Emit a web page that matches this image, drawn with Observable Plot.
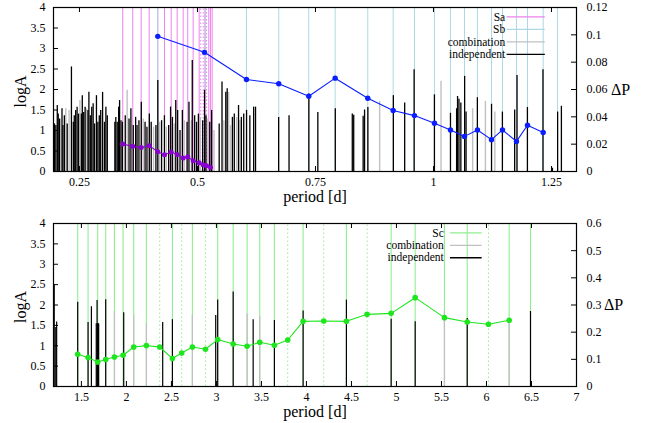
<!DOCTYPE html>
<html><head><meta charset="utf-8">
<script src="https://cdn.jsdelivr.net/npm/d3@7"></script>
<script src="https://cdn.jsdelivr.net/npm/@observablehq/plot@0.6"></script>
<style>
body{margin:0;background:#fff}
#chart{width:651px;height:423px;line-height:0}
#chart svg, #chart svg text{font-family:'Liberation Serif','DejaVu Serif',serif !important}
</style>
</head><body><div id="chart"></div>
<script>
// ---------- TOP PANEL DATA ----------
// bars: [period, logA, type]  i = independent, c = combination
const barsTop = [
[0.197,1.16,"i"],[0.200,1.12,"i"],[0.203,1.61,"i"],[0.205,1.40,"i"],[0.208,1.28,"i"],[0.213,1.53,"i"],[0.215,1.12,"i"],[0.218,1.36,"i"],[0.221,1.53,"c"],[0.224,1.16,"i"],[0.228,1.49,"c"],[0.233,2.55,"i"],[0.237,1.20,"i"],[0.239,1.36,"i"],[0.242,1.49,"i"],[0.245,1.57,"i"],[0.248,1.40,"i"],[0.251,1.73,"c"],[0.254,1.40,"i"],[0.256,1.85,"i"],[0.259,1.44,"i"],[0.262,1.57,"i"],[0.265,1.53,"c"],[0.268,1.49,"i"],[0.270,1.93,"i"],[0.273,1.36,"i"],[0.276,1.57,"i"],[0.279,1.65,"i"],[0.282,1.16,"i"],[0.286,1.85,"i"],[0.289,1.20,"i"],[0.292,1.36,"i"],[0.295,1.49,"i"],[0.299,1.93,"i"],[0.303,1.20,"i"],[0.306,1.57,"i"],[0.309,1.36,"i"],
[0.325,1.20,"i"],[0.327,1.32,"i"],[0.330,1.20,"i"],[0.333,1.57,"i"],[0.335,1.73,"i"],[0.338,1.24,"i"],[0.341,1.20,"i"],[0.347,1.36,"i"],[0.351,1.98,"c"],[0.355,1.28,"i"],[0.359,1.53,"i"],[0.364,1.12,"i"],[0.369,1.32,"i"],[0.372,1.12,"i"],[0.376,1.24,"i"],[0.381,1.69,"i"],[0.385,1.28,"c"],[0.389,1.20,"i"],[0.393,1.08,"i"],[0.398,1.40,"i"],[0.402,1.20,"i"],[0.407,1.08,"c"],[0.412,1.12,"i"],[0.416,2.22,"i"],[0.420,1.20,"c"],[0.424,1.24,"i"],[0.430,1.36,"i"],[0.434,1.08,"c"],[0.439,1.12,"i"],[0.443,1.57,"i"],[0.447,1.32,"i"],[0.451,1.16,"c"],[0.454,1.73,"i"],[0.458,1.49,"i"],[0.463,1.00,"i"],[0.468,1.49,"i"],[0.472,1.24,"c"],[0.478,1.20,"i"],[0.482,1.69,"i"],[0.487,1.24,"c"],[0.489,2.71,"i"],[0.494,1.36,"i"],[0.498,1.20,"i"],[0.502,1.40,"i"],[0.506,1.32,"c"],[0.511,1.24,"i"],[0.515,1.98,"i"],[0.518,1.36,"i"],[0.522,1.28,"c"],[0.526,1.20,"i"],[0.530,1.49,"i"],[0.535,1.00,"c"],
[0.546,1.16,"i"],[0.552,2.18,"i"],[0.556,1.24,"c"],[0.560,1.93,"i"],[0.563,2.02,"i"],[0.566,1.93,"c"],[0.570,1.12,"c"],[0.574,1.32,"i"],[0.578,1.40,"i"],[0.583,1.32,"c"],[0.587,1.61,"i"],[0.590,1.24,"c"],[0.593,1.32,"i"],[0.598,1.40,"i"],[0.604,1.49,"i"],[0.611,1.36,"i"],[0.619,1.57,"i"],[0.623,1.57,"i"],
[0.672,1.32,"i"],[0.694,1.36,"i"],[0.736,1.89,"i"],[0.755,1.44,"i"],
[0.792,1.53,"i"],[0.828,1.40,"i"],[0.831,1.37,"i"],[0.851,1.35,"i"],[0.854,1.50,"i"],[0.861,1.56,"i"],[0.886,1.71,"c"],[0.915,1.85,"i"],
[0.939,1.67,"i"],[0.959,2.48,"i"],[1.002,1.87,"i"],[1.016,2.20,"c"],[1.036,1.42,"i"],[1.049,1.53,"i"],[1.051,1.83,"i"],[1.054,1.76,"i"],[1.058,1.67,"i"],[1.066,2.32,"i"],[1.069,1.45,"i"],[1.083,1.53,"c"],[1.093,1.80,"i"],[1.110,1.71,"c"],[1.123,1.64,"i"],[1.130,1.45,"c"],[1.146,1.45,"i"],[1.172,1.50,"i"],[1.177,2.34,"i"],[1.199,1.56,"i"],[1.232,2.48,"i"],[1.252,0.08,"i"],[1.263,1.45,"i"],[1.271,1.59,"i"]
];
// Sa sequence: period and period spacing
const saPeriod = [0.3417,0.3629,0.3807,0.3977,0.4159,0.4301,0.4443,0.4570,0.4697,0.4794,0.4909,0.5036,0.5121,0.5191,0.5275];
const saDP     = [0.0201,0.0184,0.0176,0.0189,0.0145,0.0123,0.0142,0.0125,0.0098,0.0108,0.0079,0.0064,0.0049,0.0042,0.0032];
const saExtraSolid = [0.5163,0.5240,0.5311];
const saDotted = [0.5069,0.5121,0.5191];
// Sb sequence
const sbPeriod = [0.4159,0.5148,0.6038,0.6722,0.7358,0.7917,0.8608,0.9146,0.9597,1.0021,1.0360,1.0657,1.0932,1.1229,1.1462,1.1758,1.1992,1.2324];
const sbDP     = [0.0989,0.0872,0.0673,0.0642,0.0551,0.0683,0.0536,0.0446,0.0409,0.0353,0.0304,0.0257,0.0304,0.0233,0.0304,0.0220,0.0338,0.0286];
const sbEnd = 1.2627;
const xTicksTop = [0.25,0.5,0.75,1,1.25];
const yTicks = [0,0.5,1,1.5,2,2.5,3,3.5,4];
const dpTicksTop = [0,0.02,0.04,0.06,0.08,0.1,0.12];

// ---------- BOTTOM PANEL DATA ----------
const barsBottom = [
[1.198,2.49,"i"],[1.215,1.45,"i"],[1.225,1.58,"i"],
[1.459,2.07,"i"],[1.574,1.57,"i"],[1.611,1.96,"i"],[1.665,1.54,"i"],[1.674,2.11,"i"],[1.680,1.54,"i"],[1.690,1.54,"i"],[1.697,1.53,"c"],[1.770,2.13,"i"],[1.867,1.84,"c"],[1.970,1.81,"i"],[2.081,1.75,"c"],[2.222,1.54,"c"],[2.403,1.57,"i"],[2.511,1.64,"i"],[2.733,1.75,"c"],[2.992,1.74,"i"],[3.014,2.12,"i"],[3.186,2.32,"i"],[3.341,1.77,"c"],[3.408,1.64,"i"],[3.481,1.71,"c"],[3.644,1.62,"i"],[3.963,1.85,"i"],[4.444,2.12,"i"],[4.941,1.65,"i"],[5.208,1.59,"i"],[5.533,1.85,"c"],[5.786,1.67,"i"],[6.252,1.67,"c"],[6.489,1.84,"i"]
];
const scPeriod = [1.459,1.574,1.681,1.770,1.867,1.963,2.081,2.222,2.370,2.511,2.614,2.733,2.878,3.014,3.186,3.341,3.481,3.644,3.792,3.963,4.192,4.444,4.674,4.941,5.208,5.533,5.786,6.022,6.252];
const scDP     = [0.1187,0.1066,0.0904,0.0992,0.1088,0.1150,0.1455,0.1506,0.1455,0.1029,0.1235,0.1455,0.1371,0.1727,0.1565,0.1481,0.1628,0.1517,0.1712,0.2399,0.2410,0.2399,0.2656,0.2693,0.3270,0.2535,0.2374,0.2289,0.2436];
const scEnd = 6.489;
const scDotted = [2.370,2.614,2.878,3.792,4.192,4.674,6.022];
const xTicksBottom = [1.5,2,2.5,3,3.5,4,4.5,5,5.5,6,6.5,7];
const dpTicksBottom = [0,0.1,0.2,0.3,0.4,0.5,0.6];

// ---------- STYLE ----------
const FONT = "'Liberation Serif','DejaVu Serif',serif";
const C_SA = "#ee82ee", C_SB = "#add8e6", C_SC = "#90ee90", C_COMB = "#c0c0c0", C_IND = "#000000";
const C_SA_DP = "#8a00d0", C_SB_DP = "#0a1eff", C_SC_DP = "#1ee61e";
const W = 651, ML = 53, MR = 75;

function inwardTicks(xDom, yDom, xTicks, yTicks, y2Ticks, pxX, pxY) {
  const tx = 5 * (xDom[1]-xDom[0]) / pxX, ty = 5 * (yDom[1]-yDom[0]) / pxY;
  return [
    Plot.ruleX(xTicks, {x: d => d, y1: yDom[0], y2: yDom[0] + ty, stroke: "black"}),
    Plot.ruleX(xTicks, {x: d => d, y1: yDom[1], y2: yDom[1] - ty, stroke: "black"}),
    Plot.ruleY(yTicks, {y: d => d, x1: xDom[0], x2: xDom[0] + tx, stroke: "black"}),
    Plot.ruleY(y2Ticks, {y: d => d, x1: xDom[1], x2: xDom[1] - tx, stroke: "black"})
  ];
}
function axisLabels(dxRight) {
  return [
    Plot.text(["logA"], {text: d => d, frameAnchor: "left", dx: -33, dy: 2, rotate: -90, textAnchor: "middle", lineAnchor: "middle", fontSize: 16, fontFamily: FONT}),
    Plot.text(["period [d]"], {text: d => d, frameAnchor: "bottom", dy: 25, textAnchor: "middle", lineAnchor: "middle", fontSize: 16, fontFamily: FONT}),
    Plot.text(["ΔP"], {text: d => d, frameAnchor: "right", dx: dxRight, textAnchor: "middle", lineAnchor: "middle", fontSize: 16, fontFamily: FONT})
  ];
}

// ---------- TOP PANEL ----------
const k1 = 4 / 0.12;
const xDom1 = [0.195, 1.303];
const H1 = 211, MT1 = 7, MB1 = 40;
const sa = saPeriod.map((p, i) => ({p, dp: saDP[i]}));
const sb = sbPeriod.map((p, i) => ({p, dp: sbDP[i]}));
const saSolid = saPeriod.filter(p => !saDotted.includes(p)).concat(saExtraSolid);
const sbLines = sbPeriod.concat([sbEnd]);
const legX1 = [1.152, 1.156, 1.237];
const legendTop = [
  {label: "Sa", y: 3.77, color: C_SA},
  {label: "Sb", y: 3.465, color: C_SB},
  {label: "combination", y: 3.16, color: C_COMB},
  {label: "independent", y: 2.855, color: C_IND}
];

const topPlot = Plot.plot({
  width: W, height: H1, marginLeft: ML, marginRight: MR, marginTop: MT1, marginBottom: MB1,
  style: {fontFamily: FONT, fontSize: "12px", background: "white", color: "black"},
  x: {domain: xDom1},
  y: {domain: [0, 4]},
  color: {type: "identity"},
  marks: [
    Plot.ruleX(saSolid, {x: d => d, y1: 0, y2: 4, stroke: C_SA, strokeWidth: 1}),
    Plot.ruleX(saDotted, {x: d => d, y1: 0, y2: 4, stroke: C_SA, strokeWidth: 1, strokeDasharray: "1.5,2"}),
    Plot.ruleX(sbLines, {x: d => d, y1: 0, y2: 4, stroke: C_SB, strokeWidth: 1}),
    Plot.ruleX(barsTop.filter(d => d[2] === "c"), {x: d => d[0], y1: 0, y2: d => d[1], stroke: C_COMB, strokeWidth: 1.4}),
    Plot.ruleX(barsTop.filter(d => d[2] === "i"), {x: d => d[0], y1: 0, y2: d => d[1], stroke: C_IND, strokeWidth: 1.3}),
    Plot.line(sb, {x: "p", y: d => d.dp * k1, stroke: C_SB_DP, strokeWidth: 1.1}),
    Plot.dot(sb, {x: "p", y: d => d.dp * k1, r: 2.7, fill: C_SB_DP}),
    Plot.line(sa, {x: "p", y: d => d.dp * k1, stroke: C_SA_DP, strokeWidth: 1.1}),
    Plot.dot(sa, {x: "p", y: d => d.dp * k1, r: 2.5, fill: C_SA_DP}),
    Plot.text(legendTop, {x: legX1[0], y: "y", text: "label", textAnchor: "end", fontSize: 11.5, fontFamily: FONT}),
    Plot.ruleY(legendTop, {x1: legX1[1], x2: legX1[2], y: "y", stroke: "color", strokeWidth: 1.3}),
    ...inwardTicks(xDom1, [0, 4], xTicksTop, yTicks, dpTicksTop.map(v => v * k1), 523, 164),
    Plot.axisX({ticks: xTicksTop, tickSize: 0, tickPadding: 6, tickFormat: d => String(d), label: null, fontSize: 12, fontFamily: FONT}),
    Plot.axisY({ticks: yTicks, tickSize: 0, tickPadding: 8, tickFormat: d => String(d), label: null, fontSize: 12, fontFamily: FONT}),
    Plot.axisY({anchor: "right", ticks: dpTicksTop.map(v => v * k1), tickSize: 0, tickPadding: 10, tickFormat: d => String(+(d / k1).toFixed(2)), label: null, fontSize: 12, fontFamily: FONT}),
    ...axisLabels(44),
    Plot.frame({stroke: "black", strokeWidth: 1.2})
  ]
});

// ---------- BOTTOM PANEL ----------
const k2 = 4 / 0.6;
const xDom2 = [1.19, 7];
const H2 = 212, MT2 = 12, MB2 = 37;
const sc = scPeriod.map((p, i) => ({p, dp: scDP[i]}));
const scSolid = scPeriod.filter(p => !scDotted.includes(p)).concat([scEnd]);
const legX2 = [5.526, 5.60, 5.952];
const legendBottom = [
  {label: "Sc", y: 3.77, color: C_SC},
  {label: "combination", y: 3.465, color: C_COMB},
  {label: "independent", y: 3.16, color: C_IND}
];

const bottomPlot = Plot.plot({
  width: W, height: H2, marginLeft: ML, marginRight: MR, marginTop: MT2, marginBottom: MB2,
  style: {fontFamily: FONT, fontSize: "12px", background: "white", color: "black"},
  x: {domain: xDom2},
  y: {domain: [0, 4]},
  color: {type: "identity"},
  marks: [
    Plot.ruleX(scSolid, {x: d => d, y1: 0, y2: 4, stroke: C_SC, strokeWidth: 1.1}),
    Plot.ruleX(scDotted, {x: d => d, y1: 0, y2: 4, stroke: C_SC, strokeWidth: 1, strokeDasharray: "1.5,2.5"}),
    Plot.ruleX(barsBottom.filter(d => d[2] === "c"), {x: d => d[0], y1: 0, y2: d => d[1], stroke: C_COMB, strokeWidth: 1.3}),
    Plot.ruleX(barsBottom.filter(d => d[2] === "i"), {x: d => d[0], y1: 0, y2: d => d[1], stroke: C_IND, strokeWidth: 1.2}),
    Plot.line(sc, {x: "p", y: d => d.dp * k2, stroke: C_SC_DP, strokeWidth: 1.1}),
    Plot.dot(sc, {x: "p", y: d => d.dp * k2, r: 2.8, fill: C_SC_DP}),
    Plot.text(legendBottom, {x: legX2[0], y: "y", text: "label", textAnchor: "end", fontSize: 11.5, fontFamily: FONT}),
    Plot.ruleY(legendBottom, {x1: legX2[1], x2: legX2[2], y: "y", stroke: "color", strokeWidth: 1.3}),
    ...inwardTicks(xDom2, [0, 4], xTicksBottom, yTicks, dpTicksBottom.map(v => v * k2), 523, 163),
    Plot.axisX({ticks: xTicksBottom, tickSize: 0, tickPadding: 6, tickFormat: d => String(d), label: null, fontSize: 12, fontFamily: FONT}),
    Plot.axisY({ticks: yTicks, tickSize: 0, tickPadding: 8, tickFormat: d => String(d), label: null, fontSize: 12, fontFamily: FONT}),
    Plot.axisY({anchor: "right", ticks: dpTicksBottom.map(v => v * k2), tickSize: 0, tickPadding: 10, tickFormat: d => String(+(d / k2).toFixed(1)), label: null, fontSize: 12, fontFamily: FONT}),
    ...axisLabels(37),
    Plot.frame({stroke: "black", strokeWidth: 1.2})
  ]
});

const chart = document.getElementById("chart");
chart.appendChild(topPlot);
chart.appendChild(bottomPlot);
</script>
</body></html>
